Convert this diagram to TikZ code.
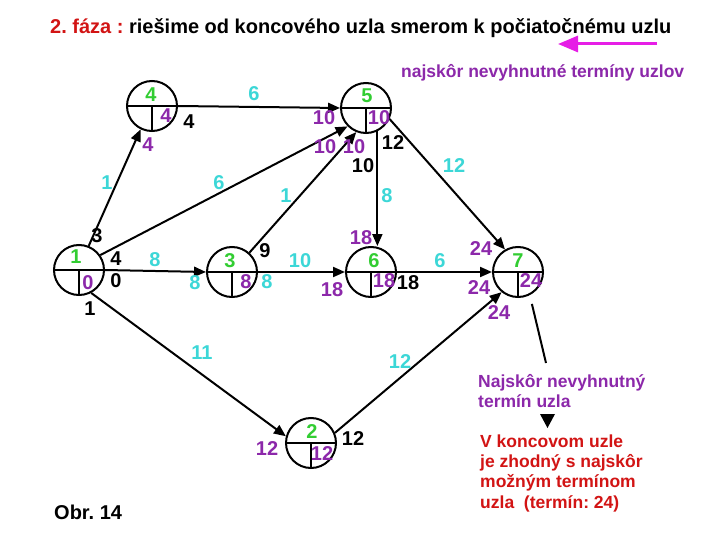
\documentclass[tikz,border=0pt]{standalone}
\usepackage{fontspec}
\setmainfont{Liberation Sans}
\usetikzlibrary{arrows.meta}
\frenchspacing
\definecolor{ngreen}{RGB}{50,205,50}
\definecolor{ncyan}{RGB}{60,215,215}
\definecolor{npurple}{RGB}{140,40,170}
\definecolor{nred}{RGB}{210,20,20}
\definecolor{nmag}{RGB}{230,30,230}
\begin{document}
\begin{tikzpicture}[x=1pt,y=-1pt,
  uzol/.style={circle,draw,line width=2pt,minimum size=50pt,inner sep=0},
  lbl/.style={inner sep=0,font=\fontsize{20}{22}\selectfont\bfseries},
  gr/.style={lbl,text=ngreen},
  cy/.style={lbl,text=ncyan},
  pu/.style={lbl,text=npurple},
  bk/.style={lbl,text=black},
  hr/.style={line width=2pt,-{Triangle[length=12pt,width=10pt]}},
  inl/.style={line width=2pt},
  txt/.style={inner sep=0,anchor=base west,font=\fontsize{17.5}{20.3}\selectfont\bfseries,align=left}]
\useasboundingbox[fill=white] (0,0) rectangle (720,540);

% nodes
\node[uzol] (n1) at (79,270) {};
\node[uzol] (n4) at (152,106) {};
\node[uzol] (n5) at (366,108) {};
\node[uzol] (n3) at (232,272) {};
\node[uzol] (n6) at (371,272) {};
\node[uzol] (n7) at (518,272) {};
\node[uzol] (n2) at (311,443) {};
\foreach \n in {n1,n2,n3,n4,n5,n6,n7}{
  \draw[inl] (\n.west) -- (\n.east) (\n.center) -- (\n.south);
}

% edges
\draw[hr] (n1.68) -- (n4.-116);
\draw[hr] (n4.east) -- (n5.west);
\draw[hr] (n1.35) -- (n5.-135);
\draw[hr] (n3.48) -- (n5.-112);
\draw[hr] (n5.-64) -- (n5.-64 |- n6.north);
\draw[hr] (n5.-25) -- (n7.120);
\draw[hr] (n1.east) -- (n3.west);
\draw[hr] (n3.east) -- (n6.west);
\draw[hr] (n6.east) -- (n7.west);
\draw[hr] (n1.-62) -- (n2.165);
\draw[hr] (n2.23) -- (n7.-129);

% green node numbers
\node[gr] (g4) at (151,95) {4};
\node[gr] (g5) at (367,96) {5};
\node[gr] (g1) at (76,257) {1};
\node[gr] (g3) at (230,261) {3};
\node[gr] (g6) at (374,261) {6};
\node[gr] (g7) at (518,261) {7};
\node[gr] (g2) at (312,432) {2};

% purple inside
\node[pu] (p4) at (166,116) {4};
\node[pu] (p5) at (379,118) {10};
\node[pu] (p1) at (88,283) {0};
\node[pu] (p3) at (246,282) {8};
\node[pu] (p6) at (384,281) {18};
\node[pu] (p7) at (531,281) {24};
\node[pu] (p2) at (322,454) {12};

% purple outside
\node[pu] (q4) at (148,145) {4};
\node[pu] (q5a) at (324,118) {10};
\node[pu] (q5b) at (325,147) {10};
\node[pu] (q5c) at (354,147) {10};
\node[pu] (q6a) at (361,238) {18};
\node[pu] (q6b) at (332,290) {18};
\node[pu] (q7a) at (481,249) {24};
\node[pu] (q7b) at (479,288) {24};
\node[pu] (q7c) at (499,313) {24};
\node[pu] (q2) at (267,449) {12};

% black
\node[bk] (b4) at (189,122) {4};
\node[bk] (b5a) at (393,143) {12};
\node[bk] (b5b) at (363,166) {10};
\node[bk] (b1a) at (97,236) {3};
\node[bk] (b1b) at (116,259) {4};
\node[bk] (b1c) at (116,281) {0};
\node[bk] (b1d) at (90,309) {1};
\node[bk] (b3) at (265,251) {9};
\node[bk] (b6) at (408,283) {18};
\node[bk] (b2) at (353,439) {12};

% cyan durations
\node[cy] (c45) at (254,94) {6};
\node[cy] (c14) at (107,183) {1};
\node[cy] (c15) at (219,183) {6};
\node[cy] (c35) at (286,196) {1};
\node[cy] (c56) at (387,196) {8};
\node[cy] (c57) at (454,166) {12};
\node[cy] (c13) at (155,260) {8};
\node[cy] (c3a) at (195,283) {8};
\node[cy] (c3b) at (267,282) {8};
\node[cy] (c36) at (300,261) {10};
\node[cy] (c67) at (440,261) {6};
\node[cy] (c12) at (202,353) {11};
\node[cy] (c27) at (400,362) {12};

% texts
\node[txt,font=\fontsize{20}{22}\selectfont\bfseries] (title) at (50,34)
  {\textcolor{nred}{2. fáza :} riešime od koncového uzla smerom k počiatočnému uzlu};
\coordinate (ma) at (657,44);
\coordinate (mb) at (558,44);
\draw[line width=3pt,nmag,-{Triangle[length=20pt,width=16pt]}] (ma) -- (mb);
\node[txt,text=npurple] (sub) at (401,78) {najskôr nevyhnutné termíny uzlov};
\node[txt,text=npurple] (t1a) at (478,387) {Najskôr nevyhnutný};
\node[txt,text=npurple] (t1b) at (478,407) {termín uzla};
\node[txt,text=nred] (t2a) at (480,447) {V koncovom uzle};
\node[txt,text=nred] (t2b) at (480,467.3) {je zhodný s najskôr};
\node[txt,text=nred] (t2c) at (480,487.6) {možným termínom};
\node[txt,text=nred] (t2d) at (480,508) {uzla\ \ (termín: 24)};
\node[txt,font=\fontsize{20}{22}\selectfont\bfseries] (obr) at (54,519) {Obr. 14};

\coordinate (ptr) at (546,363);
\draw[line width=2pt,shorten <=9pt] (n7.-63) -- (ptr);
\fill (540,414) -- (555,414) -- (547.5,428) -- cycle;
\end{tikzpicture}
\end{document}
